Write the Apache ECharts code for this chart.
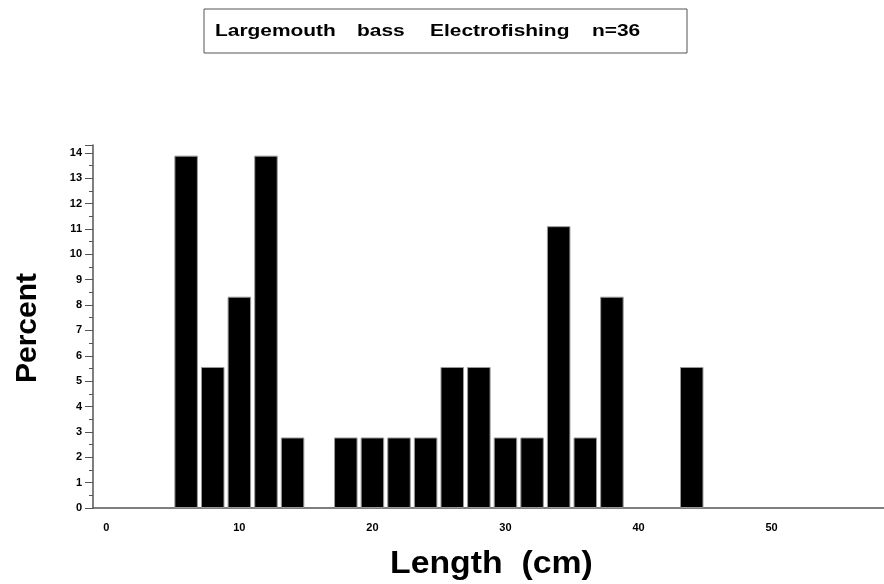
<!DOCTYPE html>
<html>
<head>
<meta charset="utf-8">
<script src="https://cdn.jsdelivr.net/npm/echarts@6/dist/echarts.min.js"></script>
<style>html,body{margin:0;padding:0;background:#fff}#c{width:884px;height:584px}</style>
</head>
<body>
<div id="c"></div>
<script>
const lengthMid = [6, 8, 10, 12, 14, 18, 20, 22, 24, 26, 28, 30, 32, 34, 36, 38, 44];
const percentVals = [13.89, 5.56, 8.33, 13.89, 2.78, 2.78, 2.78, 2.78, 2.78, 5.56, 5.56, 2.78, 2.78, 11.11, 2.78, 8.33, 5.56];
const xTickLabels = [0, 10, 20, 30, 40, 50];
const titleWords = ['Largemouth', 'bass', 'Electrofishing', 'n=36'];

const chart = echarts.init(document.getElementById('c'));
const F = 'Liberation Sans, Arial, sans-serif';
const wordX = [215, 357, 430, 592];
const titleGraphics = titleWords.map((w, i) => ({
  type: 'text', x: wordX[i], y: 31, scaleX: 1.23,
  style: { text: w, font: 'bold 17px ' + F, fill: '#000', verticalAlign: 'middle' }
}));
chart.setOption({
  animation: false,
  backgroundColor: '#fff',
  grid: { left: 93, right: 0, top: 145, bottom: 76 },
  graphic: [
    { type: 'rect', shape: { x: 204, y: 9, width: 483, height: 44 },
      style: { fill: '#fff', stroke: '#555', lineWidth: 1 } },
    ...titleGraphics,
    { type: 'text', x: 390, y: 564, scaleX: 1.09,
      style: { text: 'Length  (cm)', font: 'bold 31px ' + F, fill: '#000', verticalAlign: 'middle' } },
    { type: 'text', x: 28, y: 328, rotation: Math.PI / 2,
      style: { text: 'Percent', font: 'bold 30px ' + F, fill: '#000', align: 'center', verticalAlign: 'middle' } }
  ],
  xAxis: {
    type: 'value', min: -1, max: 58.45,
    splitLine: { show: false },
    axisLine: { lineStyle: { color: '#555', width: 1.5 } },
    axisTick: { show: false },
    axisLabel: { customValues: xTickLabels, margin: 14, color: '#000', fontWeight: 'bold', fontSize: 11, fontFamily: F }
  },
  yAxis: {
    type: 'value', min: 0, max: 14.31, interval: 1,
    splitLine: { show: false },
    axisLine: { show: true, onZero: false, lineStyle: { color: '#555', width: 1.5 } },
    axisTick: { show: true, inside: false, length: 8, lineStyle: { color: '#555' } },
    minorTick: { show: true, splitNumber: 2, length: 4, lineStyle: { color: '#555' } },
    axisLabel: { margin: 11, color: '#000', fontWeight: 'bold', fontSize: 11, fontFamily: F,
      formatter: v => (Math.abs(v - Math.round(v)) < 1e-6 && v <= 14) ? String(v) : '' }
  },
  series: [{
    type: 'bar',
    barWidth: 23.5,
    data: lengthMid.map((x, i) => [x, percentVals[i]]),
    itemStyle: { color: '#000', borderColor: '#999', borderWidth: 1 }
  }]
});
</script>
</body>
</html>
